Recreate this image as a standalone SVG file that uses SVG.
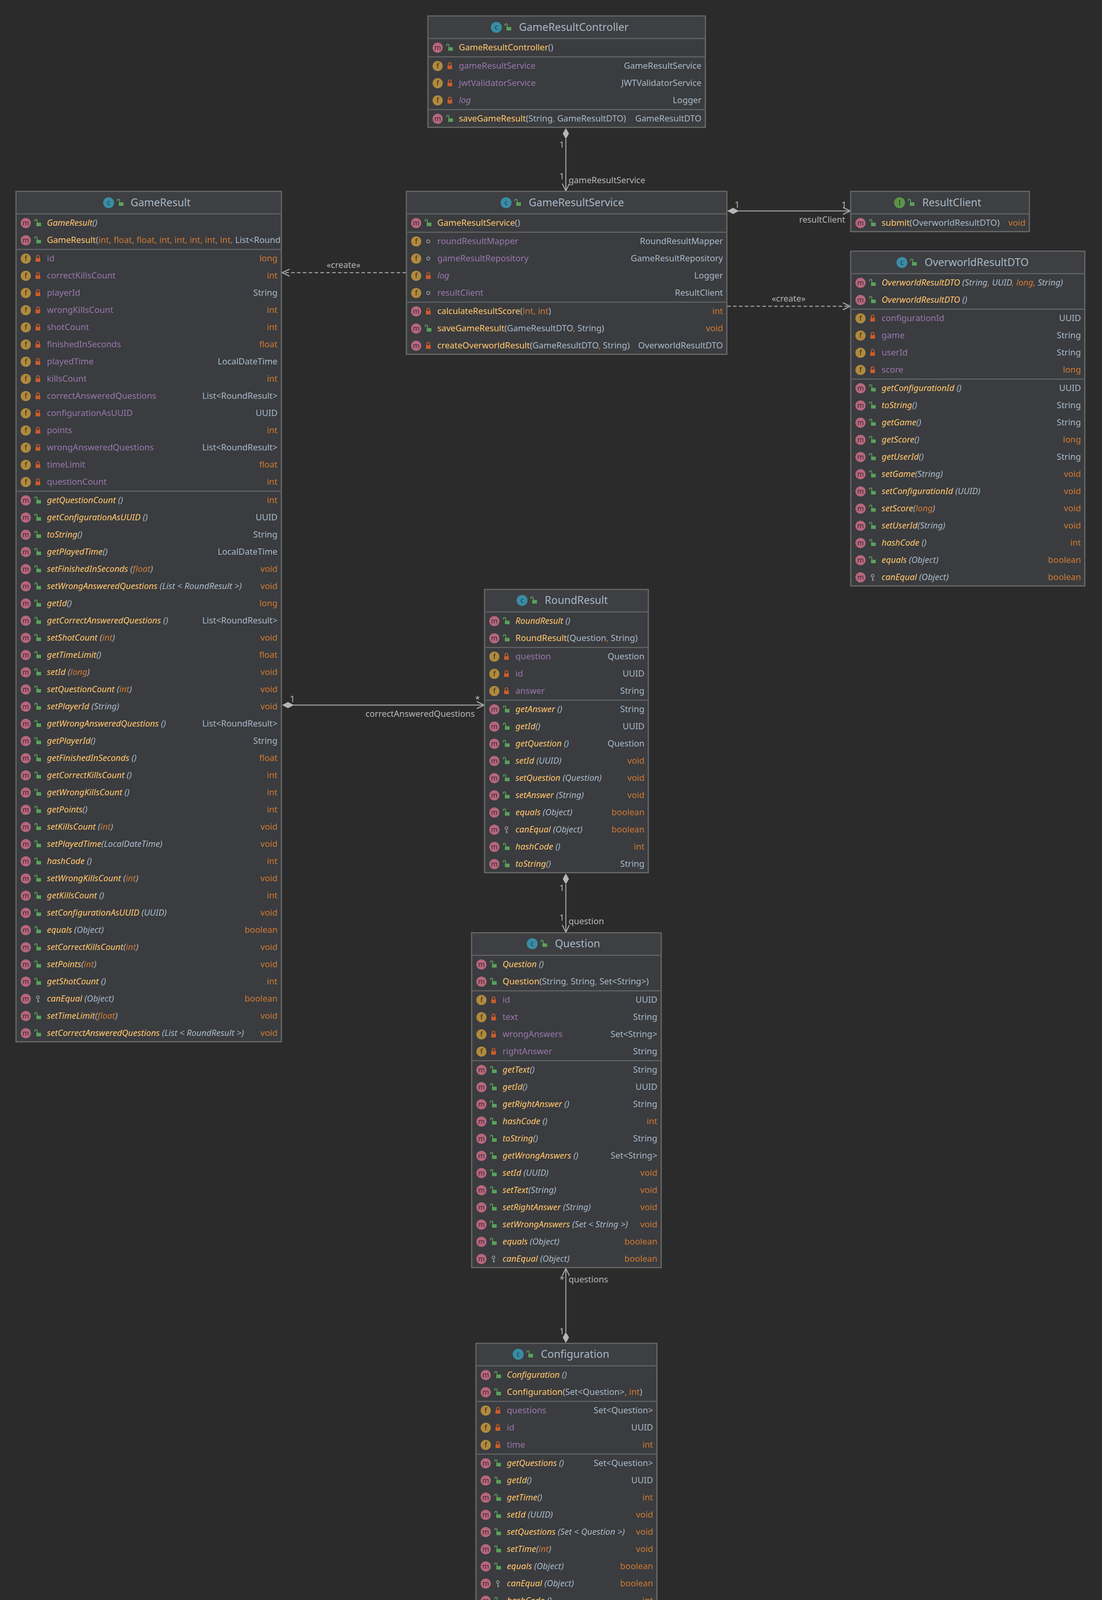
<svg xmlns="http://www.w3.org/2000/svg" xmlns:xlink="http://www.w3.org/1999/xlink" width="2820" height="4292" viewBox="0 0 2820 4292">
<style>
text{font-family:"Noto Sans","DejaVu Sans",sans-serif;font-size:22px}
.box{fill:#3a3c3f;stroke:#6b6b6b;stroke-width:3}
.hd{fill:#3d3f42}
.sep{stroke:#5f6163;stroke-width:3}
.tt{font-size:27px;fill:#a9b7c6}
.nm{fill:#ffc66d}
.fd{fill:#9876aa}
.ty{fill:#a9b7c6}
.pr{fill:#cc7832}
.it{font-style:italic}
.e{text-anchor:end}
.lb{fill:#b5b5b5}
.ln{stroke:#a8a8a8;stroke-width:2.5;fill:none}
.dash{stroke-dasharray:9 6}
.dm{fill:#b5b5b5}
</style>
<defs>
<g id="im"><circle r="13" fill="#b7677d"/><text y="6" text-anchor="middle" style="font-size:18px;fill:#3b272e">m</text></g>
<g id="if"><circle r="13" fill="#b08a3e"/><text y="6" text-anchor="middle" style="font-size:18px;fill:#3a2c12">f</text></g>
<g id="ic"><circle r="14" fill="#3a8ca4"/><text y="6" text-anchor="middle" style="font-size:18px;fill:#1c3a46">c</text></g>
<g id="ii"><circle r="14" fill="#5a9448"/><text y="6" text-anchor="middle" style="font-size:18px;fill:#1f3a18">I</text></g>
<g id="lp"><rect x="-4" y="-1" width="12" height="9" fill="#5aa15a"/><path d="M-2,-1 v-5 a3,3 0 0 0 -6,0 v2" stroke="#5aa15a" stroke-width="2.2" fill="none"/></g>
<g id="lk"><rect x="-6" y="-1" width="12" height="9" fill="#cc5c2c"/><path d="M-3.5,-1 v-4 a3.5,3.5 0 0 1 7,0 v4" stroke="#cc5c2c" stroke-width="2.2" fill="none"/></g>
<g id="kp"><circle cx="0" cy="-4" r="3.5" stroke="#9a9a9a" stroke-width="2" fill="none"/><path d="M0,-1 v10 M0,5 h3 M0,8 h3" stroke="#9a9a9a" stroke-width="2"/></g>
<g id="pk"><circle r="4" stroke="#a0a0a0" stroke-width="2" fill="none"/></g>
<clipPath id="cpE"><rect x="41" y="490" width="677" height="2180"/></clipPath>
</defs>
<rect width="2820" height="4292" fill="#2b2b2b"/>

<g id="connectors">
<line class="ln" x1="1448" y1="356" x2="1448" y2="489"/>
<polygon class="dm" points="1448,328 1456,342 1448,356 1440,342"/>
<polyline class="ln" points="1439,470 1448,489 1457,470"/>
<text class="lb e" x="1444" y="378">1</text>
<text class="lb e" x="1444" y="459">1</text>
<text class="lb" x="1455" y="469">gameResultService</text>
<line class="ln" x1="1890" y1="540" x2="2176" y2="540"/>
<polygon class="dm" points="1861,540 1876,532 1891,540 1876,548"/>
<polyline class="ln" points="2157,531 2176,540 2157,549"/>
<text class="lb" x="1880" y="532">1</text>
<text class="lb e" x="2166" y="532">1</text>
<text class="lb e" x="2163" y="570">resultClient</text>
<line class="ln dash" x1="1861" y1="784" x2="2176" y2="784"/>
<polyline class="ln" points="2157,775 2176,784 2157,793"/>
<text class="lb" x="2018" y="772" text-anchor="middle">«create»</text>
<line class="ln dash" x1="1039" y1="698" x2="722" y2="698"/>
<polyline class="ln" points="741,689 722,698 741,707"/>
<text class="lb" x="879" y="686" text-anchor="middle">«create»</text>
<line class="ln" x1="750" y1="1805" x2="1239" y2="1805"/>
<polygon class="dm" points="722,1805 737,1797 752,1805 737,1813"/>
<polyline class="ln" points="1220,1796 1239,1805 1220,1814"/>
<text class="lb" x="742" y="1797">1</text>
<text class="lb" x="1216" y="1797">*</text>
<text class="lb e" x="1215" y="1835">correctAnsweredQuestions</text>
<line class="ln" x1="1448" y1="2264" x2="1448" y2="2387"/>
<polygon class="dm" points="1448,2236 1456,2250 1448,2264 1440,2250"/>
<polyline class="ln" points="1439,2368 1448,2387 1457,2368"/>
<text class="lb e" x="1444" y="2281">1</text>
<text class="lb e" x="1444" y="2357">1</text>
<text class="lb" x="1455" y="2366">question</text>
<line class="ln" x1="1448" y1="3247" x2="1448" y2="3410"/>
<polygon class="dm" points="1448,3438 1456,3424 1448,3410 1440,3424"/>
<polyline class="ln" points="1439,3266 1448,3247 1457,3266"/>
<text class="lb e" x="1444" y="3282">*</text>
<text class="lb" x="1455" y="3283">questions</text>
<text class="lb e" x="1444" y="3416">1</text>
</g>

<g id="GameResultController">
<rect class="box" x="1095" y="41" width="710" height="285"/>
<rect class="hd" x="1096.5" y="42.5" width="707" height="55"/>
<line class="sep" x1="1095" y1="98.5" x2="1805" y2="98.5"/>
<line class="sep" x1="1095" y1="145.5" x2="1805" y2="145.5"/>
<line class="sep" x1="1095" y1="280.5" x2="1805" y2="280.5"/>
<use href="#ic" x="1270" y="70"/><use href="#lp" x="1300" y="70"/>
<text class="tt" x="1328" y="79">GameResultController</text>
<use href="#im" x="1120" y="122"/><use href="#lp" x="1151" y="122"/>
<text class="nm" x="1174" y="129">GameResultController<tspan class="ty">()</tspan></text>
<use href="#if" x="1120" y="169"/><use href="#lk" x="1151" y="169"/>
<text class="fd" x="1174" y="176">gameResultService</text><text class="ty e" x="1795" y="176">GameResultService</text>
<use href="#if" x="1120" y="213"/><use href="#lk" x="1151" y="213"/>
<text class="fd" x="1174" y="220">jwtValidatorService</text><text class="ty e" x="1795" y="220">JWTValidatorService</text>
<use href="#if" x="1120" y="257"/><use href="#lk" x="1151" y="257"/>
<text class="fd it" x="1174" y="264">log</text><text class="ty e" x="1795" y="264">Logger</text>
<use href="#im" x="1120" y="304"/><use href="#lp" x="1151" y="304"/>
<text class="nm" x="1174" y="311">saveGameResult<tspan class="ty">(String</tspan><tspan class="pr">,</tspan><tspan class="ty"> GameResultDTO)</tspan></text><text class="ty e" x="1795" y="311">GameResultDTO</text>
</g>

<g id="GameResultService">
<rect class="box" x="1040" y="490" width="820" height="417"/>
<rect class="hd" x="1041.5" y="491.5" width="817" height="55"/>
<line class="sep" x1="1040" y1="547.5" x2="1860" y2="547.5"/>
<line class="sep" x1="1040" y1="594.5" x2="1860" y2="594.5"/>
<line class="sep" x1="1040" y1="773.5" x2="1860" y2="773.5"/>
<use href="#ic" x="1295" y="519"/><use href="#lp" x="1325" y="519"/>
<text class="tt" x="1353" y="528">GameResultService</text>
<use href="#im" x="1065" y="571"/><use href="#lp" x="1096" y="571"/>
<text class="nm" x="1119" y="578">GameResultService<tspan class="ty">()</tspan></text>
<use href="#if" x="1065" y="618"/><use href="#pk" x="1096" y="618"/>
<text class="fd" x="1119" y="625">roundResultMapper</text><text class="ty e" x="1850" y="625">RoundResultMapper</text>
<use href="#if" x="1065" y="662"/><use href="#pk" x="1096" y="662"/>
<text class="fd" x="1119" y="669">gameResultRepository</text><text class="ty e" x="1850" y="669">GameResultRepository</text>
<use href="#if" x="1065" y="706"/><use href="#lk" x="1096" y="706"/>
<text class="fd it" x="1119" y="713">log</text><text class="ty e" x="1850" y="713">Logger</text>
<use href="#if" x="1065" y="750"/><use href="#pk" x="1096" y="750"/>
<text class="fd" x="1119" y="757">resultClient</text><text class="ty e" x="1850" y="757">ResultClient</text>
<use href="#im" x="1065" y="797"/><use href="#lk" x="1096" y="797"/>
<text class="nm" x="1119" y="804">calculateResultScore<tspan class="ty">(</tspan><tspan class="pr">int, int</tspan><tspan class="ty">)</tspan></text><text class="pr e" x="1850" y="804">int</text>
<use href="#im" x="1065" y="841"/><use href="#lp" x="1096" y="841"/>
<text class="nm" x="1119" y="848">saveGameResult<tspan class="ty">(GameResultDTO</tspan><tspan class="pr">,</tspan><tspan class="ty"> String)</tspan></text><text class="pr e" x="1850" y="848">void</text>
<use href="#im" x="1065" y="885"/><use href="#lk" x="1096" y="885"/>
<text class="nm" x="1119" y="892">createOverworldResult<tspan class="ty">(GameResultDTO</tspan><tspan class="pr">,</tspan><tspan class="ty"> String)</tspan></text><text class="ty e" x="1850" y="892">OverworldResultDTO</text>
</g>

<g id="ResultClient">
<rect class="box" x="2177" y="490" width="457" height="103"/>
<rect class="hd" x="2178.5" y="491.5" width="454" height="55"/>
<line class="sep" x1="2177" y1="547.5" x2="2634" y2="547.5"/>
<use href="#ii" x="2302" y="519"/><use href="#lp" x="2332" y="519"/>
<text class="tt" x="2360" y="528">ResultClient</text>
<use href="#im" x="2202" y="571"/><use href="#lp" x="2233" y="571"/>
<text class="nm" x="2256" y="578">submit<tspan class="ty">(OverworldResultDTO)</tspan></text><text class="pr e" x="2624" y="578">void</text>
</g>

<g id="OverworldResultDTO">
<rect class="box" x="2177" y="643" width="599" height="857"/>
<rect class="hd" x="2178.5" y="644.5" width="596" height="55"/>
<line class="sep" x1="2177" y1="700.5" x2="2776" y2="700.5"/>
<line class="sep" x1="2177" y1="791.5" x2="2776" y2="791.5"/>
<line class="sep" x1="2177" y1="970.5" x2="2776" y2="970.5"/>
<use href="#ic" x="2308" y="672"/><use href="#lp" x="2338" y="672"/>
<text class="tt" x="2366" y="681">OverworldResultDTO</text>
<use href="#im" x="2202" y="724"/><use href="#lp" x="2233" y="724"/>
<text class="nm it" x="2256" y="731">OverworldResultDTO<tspan class="ty"> (String</tspan><tspan class="pr">,</tspan><tspan class="ty"> UUID</tspan><tspan class="pr">, long,</tspan><tspan class="ty"> String)</tspan></text>
<use href="#im" x="2202" y="768"/><use href="#lp" x="2233" y="768"/>
<text class="nm it" x="2256" y="775">OverworldResultDTO<tspan class="ty"> ()</tspan></text>
<use href="#if" x="2202" y="815"/><use href="#lk" x="2233" y="815"/>
<text class="fd" x="2256" y="822">configurationId</text><text class="ty e" x="2766" y="822">UUID</text>
<use href="#if" x="2202" y="859"/><use href="#lk" x="2233" y="859"/>
<text class="fd" x="2256" y="866">game</text><text class="ty e" x="2766" y="866">String</text>
<use href="#if" x="2202" y="903"/><use href="#lk" x="2233" y="903"/>
<text class="fd" x="2256" y="910">userId</text><text class="ty e" x="2766" y="910">String</text>
<use href="#if" x="2202" y="947"/><use href="#lk" x="2233" y="947"/>
<text class="fd" x="2256" y="954">score</text><text class="pr e" x="2766" y="954">long</text>
<use href="#im" x="2202" y="994"/><use href="#lp" x="2233" y="994"/>
<text class="nm it" x="2256" y="1001">getConfigurationId<tspan class="ty"> ()</tspan></text><text class="ty e" x="2766" y="1001">UUID</text>
<use href="#im" x="2202" y="1038"/><use href="#lp" x="2233" y="1038"/>
<text class="nm it" x="2256" y="1045">toString<tspan class="ty">()</tspan></text><text class="ty e" x="2766" y="1045">String</text>
<use href="#im" x="2202" y="1082"/><use href="#lp" x="2233" y="1082"/>
<text class="nm it" x="2256" y="1089">getGame<tspan class="ty">()</tspan></text><text class="ty e" x="2766" y="1089">String</text>
<use href="#im" x="2202" y="1126"/><use href="#lp" x="2233" y="1126"/>
<text class="nm it" x="2256" y="1133">getScore<tspan class="ty">()</tspan></text><text class="pr e" x="2766" y="1133">long</text>
<use href="#im" x="2202" y="1170"/><use href="#lp" x="2233" y="1170"/>
<text class="nm it" x="2256" y="1177">getUserId<tspan class="ty">()</tspan></text><text class="ty e" x="2766" y="1177">String</text>
<use href="#im" x="2202" y="1214"/><use href="#lp" x="2233" y="1214"/>
<text class="nm it" x="2256" y="1221">setGame<tspan class="ty">(String)</tspan></text><text class="pr e" x="2766" y="1221">void</text>
<use href="#im" x="2202" y="1258"/><use href="#lp" x="2233" y="1258"/>
<text class="nm it" x="2256" y="1265">setConfigurationId<tspan class="ty"> (UUID)</tspan></text><text class="pr e" x="2766" y="1265">void</text>
<use href="#im" x="2202" y="1302"/><use href="#lp" x="2233" y="1302"/>
<text class="nm it" x="2256" y="1309">setScore<tspan class="ty">(</tspan><tspan class="pr">long</tspan><tspan class="ty">)</tspan></text><text class="pr e" x="2766" y="1309">void</text>
<use href="#im" x="2202" y="1346"/><use href="#lp" x="2233" y="1346"/>
<text class="nm it" x="2256" y="1353">setUserId<tspan class="ty">(String)</tspan></text><text class="pr e" x="2766" y="1353">void</text>
<use href="#im" x="2202" y="1390"/><use href="#lp" x="2233" y="1390"/>
<text class="nm it" x="2256" y="1397">hashCode<tspan class="ty"> ()</tspan></text><text class="pr e" x="2766" y="1397">int</text>
<use href="#im" x="2202" y="1434"/><use href="#lp" x="2233" y="1434"/>
<text class="nm it" x="2256" y="1441">equals<tspan class="ty"> (Object)</tspan></text><text class="pr e" x="2766" y="1441">boolean</text>
<use href="#im" x="2202" y="1478"/><use href="#kp" x="2233" y="1478"/>
<text class="nm it" x="2256" y="1485">canEqual<tspan class="ty"> (Object)</tspan></text><text class="pr e" x="2766" y="1485">boolean</text>
</g>

<g id="GameResult">
<rect class="box" x="41" y="490" width="679" height="2177"/>
<rect class="hd" x="42.5" y="491.5" width="676" height="55"/>
<line class="sep" x1="41" y1="547.5" x2="720" y2="547.5"/>
<line class="sep" x1="41" y1="638.5" x2="720" y2="638.5"/>
<line class="sep" x1="41" y1="1257.5" x2="720" y2="1257.5"/>
<use href="#ic" x="278" y="519"/><use href="#lp" x="308" y="519"/>
<text class="tt" x="334" y="528">GameResult</text>
<use href="#im" x="66" y="571"/><use href="#lp" x="97" y="571"/>
<text class="nm it" x="120" y="578">GameResult<tspan class="ty">()</tspan></text>
<use href="#im" x="66" y="615"/><use href="#lp" x="97" y="615"/>
<text class="nm" x="120" y="622" clip-path="url(#cpE)">GameResult<tspan class="ty">(</tspan><tspan class="pr">int, float, float, int, int, int, int, int, </tspan><tspan class="ty">List&lt;RoundResult&gt;)</tspan></text>
<use href="#if" x="66" y="662"/><use href="#lk" x="97" y="662"/><text class="fd" x="120" y="669">id</text><text class="pr e" x="710" y="669">long</text>
<use href="#if" x="66" y="706"/><use href="#lk" x="97" y="706"/><text class="fd" x="120" y="713">correctKillsCount</text><text class="pr e" x="710" y="713">int</text>
<use href="#if" x="66" y="750"/><use href="#lk" x="97" y="750"/><text class="fd" x="120" y="757">playerId</text><text class="ty e" x="710" y="757">String</text>
<use href="#if" x="66" y="794"/><use href="#lk" x="97" y="794"/><text class="fd" x="120" y="801">wrongKillsCount</text><text class="pr e" x="710" y="801">int</text>
<use href="#if" x="66" y="838"/><use href="#lk" x="97" y="838"/><text class="fd" x="120" y="845">shotCount</text><text class="pr e" x="710" y="845">int</text>
<use href="#if" x="66" y="882"/><use href="#lk" x="97" y="882"/><text class="fd" x="120" y="889">finishedInSeconds</text><text class="pr e" x="710" y="889">float</text>
<use href="#if" x="66" y="926"/><use href="#lk" x="97" y="926"/><text class="fd" x="120" y="933">playedTime</text><text class="ty e" x="710" y="933">LocalDateTime</text>
<use href="#if" x="66" y="970"/><use href="#lk" x="97" y="970"/><text class="fd" x="120" y="977">killsCount</text><text class="pr e" x="710" y="977">int</text>
<use href="#if" x="66" y="1014"/><use href="#lk" x="97" y="1014"/><text class="fd" x="120" y="1021">correctAnsweredQuestions</text><text class="ty e" x="710" y="1021">List&lt;RoundResult&gt;</text>
<use href="#if" x="66" y="1058"/><use href="#lk" x="97" y="1058"/><text class="fd" x="120" y="1065">configurationAsUUID</text><text class="ty e" x="710" y="1065">UUID</text>
<use href="#if" x="66" y="1102"/><use href="#lk" x="97" y="1102"/><text class="fd" x="120" y="1109">points</text><text class="pr e" x="710" y="1109">int</text>
<use href="#if" x="66" y="1146"/><use href="#lk" x="97" y="1146"/><text class="fd" x="120" y="1153">wrongAnsweredQuestions</text><text class="ty e" x="710" y="1153">List&lt;RoundResult&gt;</text>
<use href="#if" x="66" y="1190"/><use href="#lk" x="97" y="1190"/><text class="fd" x="120" y="1197">timeLimit</text><text class="pr e" x="710" y="1197">float</text>
<use href="#if" x="66" y="1234"/><use href="#lk" x="97" y="1234"/><text class="fd" x="120" y="1241">questionCount</text><text class="pr e" x="710" y="1241">int</text>
<use href="#im" x="66" y="1281"/><use href="#lp" x="97" y="1281"/><text class="nm it" x="120" y="1288">getQuestionCount<tspan class="ty"> ()</tspan></text><text class="pr e" x="710" y="1288">int</text>
<use href="#im" x="66" y="1325"/><use href="#lp" x="97" y="1325"/><text class="nm it" x="120" y="1332">getConfigurationAsUUID<tspan class="ty"> ()</tspan></text><text class="ty e" x="710" y="1332">UUID</text>
<use href="#im" x="66" y="1369"/><use href="#lp" x="97" y="1369"/><text class="nm it" x="120" y="1376">toString<tspan class="ty">()</tspan></text><text class="ty e" x="710" y="1376">String</text>
<use href="#im" x="66" y="1413"/><use href="#lp" x="97" y="1413"/><text class="nm it" x="120" y="1420">getPlayedTime<tspan class="ty">()</tspan></text><text class="ty e" x="710" y="1420">LocalDateTime</text>
<use href="#im" x="66" y="1457"/><use href="#lp" x="97" y="1457"/><text class="nm it" x="120" y="1464">setFinishedInSeconds<tspan class="ty"> (</tspan><tspan class="pr">float</tspan><tspan class="ty">)</tspan></text><text class="pr e" x="710" y="1464">void</text>
<use href="#im" x="66" y="1501"/><use href="#lp" x="97" y="1501"/><text class="nm it" x="120" y="1508">setWrongAnsweredQuestions<tspan class="ty"> (List &lt; RoundResult &gt;)</tspan></text><text class="pr e" x="710" y="1508">void</text>
<use href="#im" x="66" y="1545"/><use href="#lp" x="97" y="1545"/><text class="nm it" x="120" y="1552">getId<tspan class="ty">()</tspan></text><text class="pr e" x="710" y="1552">long</text>
<use href="#im" x="66" y="1589"/><use href="#lp" x="97" y="1589"/><text class="nm it" x="120" y="1596">getCorrectAnsweredQuestions<tspan class="ty"> ()</tspan></text><text class="ty e" x="710" y="1596">List&lt;RoundResult&gt;</text>
<use href="#im" x="66" y="1633"/><use href="#lp" x="97" y="1633"/><text class="nm it" x="120" y="1640">setShotCount<tspan class="ty"> (</tspan><tspan class="pr">int</tspan><tspan class="ty">)</tspan></text><text class="pr e" x="710" y="1640">void</text>
<use href="#im" x="66" y="1677"/><use href="#lp" x="97" y="1677"/><text class="nm it" x="120" y="1684">getTimeLimit<tspan class="ty">()</tspan></text><text class="pr e" x="710" y="1684">float</text>
<use href="#im" x="66" y="1721"/><use href="#lp" x="97" y="1721"/><text class="nm it" x="120" y="1728">setId<tspan class="ty"> (</tspan><tspan class="pr">long</tspan><tspan class="ty">)</tspan></text><text class="pr e" x="710" y="1728">void</text>
<use href="#im" x="66" y="1765"/><use href="#lp" x="97" y="1765"/><text class="nm it" x="120" y="1772">setQuestionCount<tspan class="ty"> (</tspan><tspan class="pr">int</tspan><tspan class="ty">)</tspan></text><text class="pr e" x="710" y="1772">void</text>
<use href="#im" x="66" y="1809"/><use href="#lp" x="97" y="1809"/><text class="nm it" x="120" y="1816">setPlayerId<tspan class="ty"> (String)</tspan></text><text class="pr e" x="710" y="1816">void</text>
<use href="#im" x="66" y="1853"/><use href="#lp" x="97" y="1853"/><text class="nm it" x="120" y="1860">getWrongAnsweredQuestions<tspan class="ty"> ()</tspan></text><text class="ty e" x="710" y="1860">List&lt;RoundResult&gt;</text>
<use href="#im" x="66" y="1897"/><use href="#lp" x="97" y="1897"/><text class="nm it" x="120" y="1904">getPlayerId<tspan class="ty">()</tspan></text><text class="ty e" x="710" y="1904">String</text>
<use href="#im" x="66" y="1941"/><use href="#lp" x="97" y="1941"/><text class="nm it" x="120" y="1948">getFinishedInSeconds<tspan class="ty"> ()</tspan></text><text class="pr e" x="710" y="1948">float</text>
<use href="#im" x="66" y="1985"/><use href="#lp" x="97" y="1985"/><text class="nm it" x="120" y="1992">getCorrectKillsCount<tspan class="ty"> ()</tspan></text><text class="pr e" x="710" y="1992">int</text>
<use href="#im" x="66" y="2029"/><use href="#lp" x="97" y="2029"/><text class="nm it" x="120" y="2036">getWrongKillsCount<tspan class="ty"> ()</tspan></text><text class="pr e" x="710" y="2036">int</text>
<use href="#im" x="66" y="2073"/><use href="#lp" x="97" y="2073"/><text class="nm it" x="120" y="2080">getPoints<tspan class="ty">()</tspan></text><text class="pr e" x="710" y="2080">int</text>
<use href="#im" x="66" y="2117"/><use href="#lp" x="97" y="2117"/><text class="nm it" x="120" y="2124">setKillsCount<tspan class="ty"> (</tspan><tspan class="pr">int</tspan><tspan class="ty">)</tspan></text><text class="pr e" x="710" y="2124">void</text>
<use href="#im" x="66" y="2161"/><use href="#lp" x="97" y="2161"/><text class="nm it" x="120" y="2168">setPlayedTime<tspan class="ty">(LocalDateTime)</tspan></text><text class="pr e" x="710" y="2168">void</text>
<use href="#im" x="66" y="2205"/><use href="#lp" x="97" y="2205"/><text class="nm it" x="120" y="2212">hashCode<tspan class="ty"> ()</tspan></text><text class="pr e" x="710" y="2212">int</text>
<use href="#im" x="66" y="2249"/><use href="#lp" x="97" y="2249"/><text class="nm it" x="120" y="2256">setWrongKillsCount<tspan class="ty"> (</tspan><tspan class="pr">int</tspan><tspan class="ty">)</tspan></text><text class="pr e" x="710" y="2256">void</text>
<use href="#im" x="66" y="2293"/><use href="#lp" x="97" y="2293"/><text class="nm it" x="120" y="2300">getKillsCount<tspan class="ty"> ()</tspan></text><text class="pr e" x="710" y="2300">int</text>
<use href="#im" x="66" y="2337"/><use href="#lp" x="97" y="2337"/><text class="nm it" x="120" y="2344">setConfigurationAsUUID<tspan class="ty"> (UUID)</tspan></text><text class="pr e" x="710" y="2344">void</text>
<use href="#im" x="66" y="2381"/><use href="#lp" x="97" y="2381"/><text class="nm it" x="120" y="2388">equals<tspan class="ty"> (Object)</tspan></text><text class="pr e" x="710" y="2388">boolean</text>
<use href="#im" x="66" y="2425"/><use href="#lp" x="97" y="2425"/><text class="nm it" x="120" y="2432">setCorrectKillsCount<tspan class="ty">(</tspan><tspan class="pr">int</tspan><tspan class="ty">)</tspan></text><text class="pr e" x="710" y="2432">void</text>
<use href="#im" x="66" y="2469"/><use href="#lp" x="97" y="2469"/><text class="nm it" x="120" y="2476">setPoints<tspan class="ty">(</tspan><tspan class="pr">int</tspan><tspan class="ty">)</tspan></text><text class="pr e" x="710" y="2476">void</text>
<use href="#im" x="66" y="2513"/><use href="#lp" x="97" y="2513"/><text class="nm it" x="120" y="2520">getShotCount<tspan class="ty"> ()</tspan></text><text class="pr e" x="710" y="2520">int</text>
<use href="#im" x="66" y="2557"/><use href="#kp" x="97" y="2557"/><text class="nm it" x="120" y="2564">canEqual<tspan class="ty"> (Object)</tspan></text><text class="pr e" x="710" y="2564">boolean</text>
<use href="#im" x="66" y="2601"/><use href="#lp" x="97" y="2601"/><text class="nm it" x="120" y="2608">setTimeLimit<tspan class="ty">(</tspan><tspan class="pr">float</tspan><tspan class="ty">)</tspan></text><text class="pr e" x="710" y="2608">void</text>
<use href="#im" x="66" y="2645"/><use href="#lp" x="97" y="2645"/><text class="nm it" x="120" y="2652">setCorrectAnsweredQuestions<tspan class="ty"> (List &lt; RoundResult &gt;)</tspan></text><text class="pr e" x="710" y="2652">void</text>
</g>

<g id="RoundResult">
<rect class="box" x="1240" y="1509" width="419" height="725"/>
<rect class="hd" x="1241.5" y="1510.5" width="416" height="55"/>
<line class="sep" x1="1240" y1="1566.5" x2="1659" y2="1566.5"/>
<line class="sep" x1="1240" y1="1657.5" x2="1659" y2="1657.5"/>
<line class="sep" x1="1240" y1="1792.5" x2="1659" y2="1792.5"/>
<use href="#ic" x="1336" y="1537"/><use href="#lp" x="1366" y="1537"/>
<text class="tt" x="1394" y="1546">RoundResult</text>
<use href="#im" x="1265" y="1590"/><use href="#lp" x="1296" y="1590"/><text class="nm it" x="1319" y="1597">RoundResult<tspan class="ty"> ()</tspan></text>
<use href="#im" x="1265" y="1634"/><use href="#lp" x="1296" y="1634"/><text class="nm" x="1319" y="1641">RoundResult<tspan class="ty">(Question</tspan><tspan class="pr">,</tspan><tspan class="ty"> String)</tspan></text>
<use href="#if" x="1265" y="1681"/><use href="#lk" x="1296" y="1681"/><text class="fd" x="1319" y="1688">question</text><text class="ty e" x="1649" y="1688">Question</text>
<use href="#if" x="1265" y="1725"/><use href="#lk" x="1296" y="1725"/><text class="fd" x="1319" y="1732">id</text><text class="ty e" x="1649" y="1732">UUID</text>
<use href="#if" x="1265" y="1769"/><use href="#lk" x="1296" y="1769"/><text class="fd" x="1319" y="1776">answer</text><text class="ty e" x="1649" y="1776">String</text>
<use href="#im" x="1265" y="1816"/><use href="#lp" x="1296" y="1816"/><text class="nm it" x="1319" y="1823">getAnswer<tspan class="ty"> ()</tspan></text><text class="ty e" x="1649" y="1823">String</text>
<use href="#im" x="1265" y="1860"/><use href="#lp" x="1296" y="1860"/><text class="nm it" x="1319" y="1867">getId<tspan class="ty">()</tspan></text><text class="ty e" x="1649" y="1867">UUID</text>
<use href="#im" x="1265" y="1904"/><use href="#lp" x="1296" y="1904"/><text class="nm it" x="1319" y="1911">getQuestion<tspan class="ty"> ()</tspan></text><text class="ty e" x="1649" y="1911">Question</text>
<use href="#im" x="1265" y="1948"/><use href="#lp" x="1296" y="1948"/><text class="nm it" x="1319" y="1955">setId<tspan class="ty"> (UUID)</tspan></text><text class="pr e" x="1649" y="1955">void</text>
<use href="#im" x="1265" y="1992"/><use href="#lp" x="1296" y="1992"/><text class="nm it" x="1319" y="1999">setQuestion<tspan class="ty"> (Question)</tspan></text><text class="pr e" x="1649" y="1999">void</text>
<use href="#im" x="1265" y="2036"/><use href="#lp" x="1296" y="2036"/><text class="nm it" x="1319" y="2043">setAnswer<tspan class="ty"> (String)</tspan></text><text class="pr e" x="1649" y="2043">void</text>
<use href="#im" x="1265" y="2080"/><use href="#lp" x="1296" y="2080"/><text class="nm it" x="1319" y="2087">equals<tspan class="ty"> (Object)</tspan></text><text class="pr e" x="1649" y="2087">boolean</text>
<use href="#im" x="1265" y="2124"/><use href="#kp" x="1296" y="2124"/><text class="nm it" x="1319" y="2131">canEqual<tspan class="ty"> (Object)</tspan></text><text class="pr e" x="1649" y="2131">boolean</text>
<use href="#im" x="1265" y="2168"/><use href="#lp" x="1296" y="2168"/><text class="nm it" x="1319" y="2175">hashCode<tspan class="ty"> ()</tspan></text><text class="pr e" x="1649" y="2175">int</text>
<use href="#im" x="1265" y="2212"/><use href="#lp" x="1296" y="2212"/><text class="nm it" x="1319" y="2219">toString<tspan class="ty">()</tspan></text><text class="ty e" x="1649" y="2219">String</text>
</g>

<g id="Question">
<rect class="box" x="1207" y="2388" width="485" height="857"/>
<rect class="hd" x="1208.5" y="2389.5" width="482" height="55"/>
<line class="sep" x1="1207" y1="2445.5" x2="1692" y2="2445.5"/>
<line class="sep" x1="1207" y1="2536.5" x2="1692" y2="2536.5"/>
<line class="sep" x1="1207" y1="2715.5" x2="1692" y2="2715.5"/>
<use href="#ic" x="1362" y="2416"/><use href="#lp" x="1392" y="2416"/>
<text class="tt" x="1420" y="2425">Question</text>
<use href="#im" x="1232" y="2469"/><use href="#lp" x="1263" y="2469"/><text class="nm it" x="1286" y="2476">Question<tspan class="ty"> ()</tspan></text>
<use href="#im" x="1232" y="2513"/><use href="#lp" x="1263" y="2513"/><text class="nm" x="1286" y="2520">Question<tspan class="ty">(String</tspan><tspan class="pr">,</tspan><tspan class="ty"> String</tspan><tspan class="pr">,</tspan><tspan class="ty"> Set&lt;String&gt;)</tspan></text>
<use href="#if" x="1232" y="2560"/><use href="#lk" x="1263" y="2560"/><text class="fd" x="1286" y="2567">id</text><text class="ty e" x="1682" y="2567">UUID</text>
<use href="#if" x="1232" y="2604"/><use href="#lk" x="1263" y="2604"/><text class="fd" x="1286" y="2611">text</text><text class="ty e" x="1682" y="2611">String</text>
<use href="#if" x="1232" y="2648"/><use href="#lk" x="1263" y="2648"/><text class="fd" x="1286" y="2655">wrongAnswers</text><text class="ty e" x="1682" y="2655">Set&lt;String&gt;</text>
<use href="#if" x="1232" y="2692"/><use href="#lk" x="1263" y="2692"/><text class="fd" x="1286" y="2699">rightAnswer</text><text class="ty e" x="1682" y="2699">String</text>
<use href="#im" x="1232" y="2739"/><use href="#lp" x="1263" y="2739"/><text class="nm it" x="1286" y="2746">getText<tspan class="ty">()</tspan></text><text class="ty e" x="1682" y="2746">String</text>
<use href="#im" x="1232" y="2783"/><use href="#lp" x="1263" y="2783"/><text class="nm it" x="1286" y="2790">getId<tspan class="ty">()</tspan></text><text class="ty e" x="1682" y="2790">UUID</text>
<use href="#im" x="1232" y="2827"/><use href="#lp" x="1263" y="2827"/><text class="nm it" x="1286" y="2834">getRightAnswer<tspan class="ty"> ()</tspan></text><text class="ty e" x="1682" y="2834">String</text>
<use href="#im" x="1232" y="2871"/><use href="#lp" x="1263" y="2871"/><text class="nm it" x="1286" y="2878">hashCode<tspan class="ty"> ()</tspan></text><text class="pr e" x="1682" y="2878">int</text>
<use href="#im" x="1232" y="2915"/><use href="#lp" x="1263" y="2915"/><text class="nm it" x="1286" y="2922">toString<tspan class="ty">()</tspan></text><text class="ty e" x="1682" y="2922">String</text>
<use href="#im" x="1232" y="2959"/><use href="#lp" x="1263" y="2959"/><text class="nm it" x="1286" y="2966">getWrongAnswers<tspan class="ty"> ()</tspan></text><text class="ty e" x="1682" y="2966">Set&lt;String&gt;</text>
<use href="#im" x="1232" y="3003"/><use href="#lp" x="1263" y="3003"/><text class="nm it" x="1286" y="3010">setId<tspan class="ty"> (UUID)</tspan></text><text class="pr e" x="1682" y="3010">void</text>
<use href="#im" x="1232" y="3047"/><use href="#lp" x="1263" y="3047"/><text class="nm it" x="1286" y="3054">setText<tspan class="ty">(String)</tspan></text><text class="pr e" x="1682" y="3054">void</text>
<use href="#im" x="1232" y="3091"/><use href="#lp" x="1263" y="3091"/><text class="nm it" x="1286" y="3098">setRightAnswer<tspan class="ty"> (String)</tspan></text><text class="pr e" x="1682" y="3098">void</text>
<use href="#im" x="1232" y="3135"/><use href="#lp" x="1263" y="3135"/><text class="nm it" x="1286" y="3142">setWrongAnswers<tspan class="ty"> (Set &lt; String &gt;)</tspan></text><text class="pr e" x="1682" y="3142">void</text>
<use href="#im" x="1232" y="3179"/><use href="#lp" x="1263" y="3179"/><text class="nm it" x="1286" y="3186">equals<tspan class="ty"> (Object)</tspan></text><text class="pr e" x="1682" y="3186">boolean</text>
<use href="#im" x="1232" y="3223"/><use href="#kp" x="1263" y="3223"/><text class="nm it" x="1286" y="3230">canEqual<tspan class="ty"> (Object)</tspan></text><text class="pr e" x="1682" y="3230">boolean</text>
</g>

<g id="Configuration">
<rect class="box" x="1218" y="3439" width="463" height="813"/>
<rect class="hd" x="1219.5" y="3440.5" width="460" height="55"/>
<line class="sep" x1="1218" y1="3496.5" x2="1681" y2="3496.5"/>
<line class="sep" x1="1218" y1="3587.5" x2="1681" y2="3587.5"/>
<line class="sep" x1="1218" y1="3722.5" x2="1681" y2="3722.5"/>
<use href="#ic" x="1326" y="3467"/><use href="#lp" x="1356" y="3467"/>
<text class="tt" x="1384" y="3476">Configuration</text>
<use href="#im" x="1243" y="3520"/><use href="#lp" x="1274" y="3520"/><text class="nm it" x="1297" y="3527">Configuration<tspan class="ty"> ()</tspan></text>
<use href="#im" x="1243" y="3564"/><use href="#lp" x="1274" y="3564"/><text class="nm" x="1297" y="3571">Configuration<tspan class="ty">(Set&lt;Question&gt;</tspan><tspan class="pr">, int</tspan><tspan class="ty">)</tspan></text>
<use href="#if" x="1243" y="3611"/><use href="#lk" x="1274" y="3611"/><text class="fd" x="1297" y="3618">questions</text><text class="ty e" x="1671" y="3618">Set&lt;Question&gt;</text>
<use href="#if" x="1243" y="3655"/><use href="#lk" x="1274" y="3655"/><text class="fd" x="1297" y="3662">id</text><text class="ty e" x="1671" y="3662">UUID</text>
<use href="#if" x="1243" y="3699"/><use href="#lk" x="1274" y="3699"/><text class="fd" x="1297" y="3706">time</text><text class="pr e" x="1671" y="3706">int</text>
<use href="#im" x="1243" y="3746"/><use href="#lp" x="1274" y="3746"/><text class="nm it" x="1297" y="3753">getQuestions<tspan class="ty"> ()</tspan></text><text class="ty e" x="1671" y="3753">Set&lt;Question&gt;</text>
<use href="#im" x="1243" y="3790"/><use href="#lp" x="1274" y="3790"/><text class="nm it" x="1297" y="3797">getId<tspan class="ty">()</tspan></text><text class="ty e" x="1671" y="3797">UUID</text>
<use href="#im" x="1243" y="3834"/><use href="#lp" x="1274" y="3834"/><text class="nm it" x="1297" y="3841">getTime<tspan class="ty">()</tspan></text><text class="pr e" x="1671" y="3841">int</text>
<use href="#im" x="1243" y="3878"/><use href="#lp" x="1274" y="3878"/><text class="nm it" x="1297" y="3885">setId<tspan class="ty"> (UUID)</tspan></text><text class="pr e" x="1671" y="3885">void</text>
<use href="#im" x="1243" y="3922"/><use href="#lp" x="1274" y="3922"/><text class="nm it" x="1297" y="3929">setQuestions<tspan class="ty"> (Set &lt; Question &gt;)</tspan></text><text class="pr e" x="1671" y="3929">void</text>
<use href="#im" x="1243" y="3966"/><use href="#lp" x="1274" y="3966"/><text class="nm it" x="1297" y="3973">setTime<tspan class="ty">(</tspan><tspan class="pr">int</tspan><tspan class="ty">)</tspan></text><text class="pr e" x="1671" y="3973">void</text>
<use href="#im" x="1243" y="4010"/><use href="#lp" x="1274" y="4010"/><text class="nm it" x="1297" y="4017">equals<tspan class="ty"> (Object)</tspan></text><text class="pr e" x="1671" y="4017">boolean</text>
<use href="#im" x="1243" y="4054"/><use href="#kp" x="1274" y="4054"/><text class="nm it" x="1297" y="4061">canEqual<tspan class="ty"> (Object)</tspan></text><text class="pr e" x="1671" y="4061">boolean</text>
<use href="#im" x="1243" y="4098"/><use href="#lp" x="1274" y="4098"/><text class="nm it" x="1297" y="4105">hashCode<tspan class="ty"> ()</tspan></text><text class="pr e" x="1671" y="4105">int</text>
<use href="#im" x="1243" y="4142"/><use href="#lp" x="1274" y="4142"/><text class="nm it" x="1297" y="4149">toString<tspan class="ty">()</tspan></text><text class="ty e" x="1671" y="4149">String</text>
<use href="#im" x="1243" y="4186"/><use href="#lp" x="1274" y="4186"/><text class="nm" x="1297" y="4193">removeQuestion<tspan class="ty">(Question)</tspan></text><text class="pr e" x="1671" y="4193">void</text>
<use href="#im" x="1243" y="4230"/><use href="#lp" x="1274" y="4230"/><text class="nm" x="1297" y="4237">addQuestion<tspan class="ty">(Question)</tspan></text><text class="pr e" x="1671" y="4237">void</text>
</g>
</svg>
